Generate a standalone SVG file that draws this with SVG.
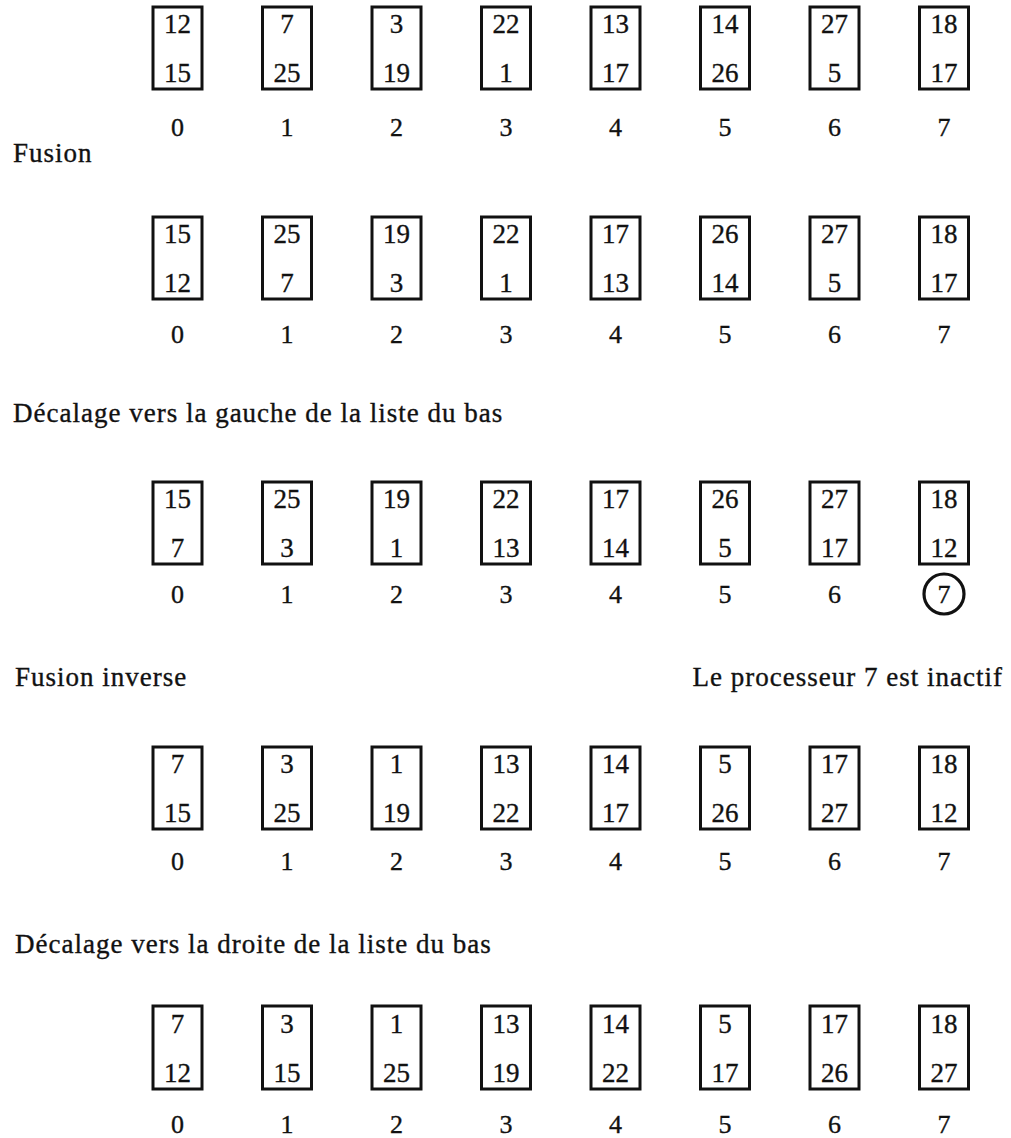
<svg xmlns="http://www.w3.org/2000/svg" width="1011" height="1138" viewBox="0 0 1011 1138">
<style>
text{font-family:"Liberation Serif","Times New Roman",serif;fill:#111;stroke:#111;stroke-width:0.35;}
.box{fill:none;stroke:#111;stroke-width:3;}
.v{font-size:27px;text-anchor:middle;}
.idx{font-size:26px;text-anchor:middle;}
.lbl{font-size:27px;letter-spacing:1px;}
</style>
<rect width="1011" height="1138" fill="#fff"/>
<g id="labels">
<text class="lbl" x="13" y="162">Fusion</text>
<text class="lbl" x="13" y="422">Décalage vers la gauche de la liste du bas</text>
<text class="lbl" x="15" y="686">Fusion inverse</text>
<text class="lbl" x="1003" y="686" text-anchor="end">Le processeur 7 est inactif</text>
<text class="lbl" x="15" y="953">Décalage vers la droite de la liste du bas</text>
</g>
<g id="row1">
<g id="r1-n0"><rect class="box" x="153" y="7" width="49" height="82"/><text class="v" x="177.5" y="33">12</text><text class="v" x="177.5" y="82">15</text><text class="idx" x="177.5" y="136">0</text></g>
<g id="r1-n1"><rect class="box" x="262.5" y="7" width="49" height="82"/><text class="v" x="287" y="33">7</text><text class="v" x="287" y="82">25</text><text class="idx" x="287" y="136">1</text></g>
<g id="r1-n2"><rect class="box" x="372" y="7" width="49" height="82"/><text class="v" x="396.5" y="33">3</text><text class="v" x="396.5" y="82">19</text><text class="idx" x="396.5" y="136">2</text></g>
<g id="r1-n3"><rect class="box" x="481.5" y="7" width="49" height="82"/><text class="v" x="506" y="33">22</text><text class="v" x="506" y="82">1</text><text class="idx" x="506" y="136">3</text></g>
<g id="r1-n4"><rect class="box" x="591" y="7" width="49" height="82"/><text class="v" x="615.5" y="33">13</text><text class="v" x="615.5" y="82">17</text><text class="idx" x="615.5" y="136">4</text></g>
<g id="r1-n5"><rect class="box" x="700.5" y="7" width="49" height="82"/><text class="v" x="725" y="33">14</text><text class="v" x="725" y="82">26</text><text class="idx" x="725" y="136">5</text></g>
<g id="r1-n6"><rect class="box" x="810" y="7" width="49" height="82"/><text class="v" x="834.5" y="33">27</text><text class="v" x="834.5" y="82">5</text><text class="idx" x="834.5" y="136">6</text></g>
<g id="r1-n7"><rect class="box" x="919.5" y="7" width="49" height="82"/><text class="v" x="944" y="33">18</text><text class="v" x="944" y="82">17</text><text class="idx" x="944" y="136">7</text></g>
</g>
<g id="row2">
<g id="r2-n0"><rect class="box" x="153" y="217" width="49" height="82"/><text class="v" x="177.5" y="243">15</text><text class="v" x="177.5" y="292">12</text><text class="idx" x="177.5" y="343">0</text></g>
<g id="r2-n1"><rect class="box" x="262.5" y="217" width="49" height="82"/><text class="v" x="287" y="243">25</text><text class="v" x="287" y="292">7</text><text class="idx" x="287" y="343">1</text></g>
<g id="r2-n2"><rect class="box" x="372" y="217" width="49" height="82"/><text class="v" x="396.5" y="243">19</text><text class="v" x="396.5" y="292">3</text><text class="idx" x="396.5" y="343">2</text></g>
<g id="r2-n3"><rect class="box" x="481.5" y="217" width="49" height="82"/><text class="v" x="506" y="243">22</text><text class="v" x="506" y="292">1</text><text class="idx" x="506" y="343">3</text></g>
<g id="r2-n4"><rect class="box" x="591" y="217" width="49" height="82"/><text class="v" x="615.5" y="243">17</text><text class="v" x="615.5" y="292">13</text><text class="idx" x="615.5" y="343">4</text></g>
<g id="r2-n5"><rect class="box" x="700.5" y="217" width="49" height="82"/><text class="v" x="725" y="243">26</text><text class="v" x="725" y="292">14</text><text class="idx" x="725" y="343">5</text></g>
<g id="r2-n6"><rect class="box" x="810" y="217" width="49" height="82"/><text class="v" x="834.5" y="243">27</text><text class="v" x="834.5" y="292">5</text><text class="idx" x="834.5" y="343">6</text></g>
<g id="r2-n7"><rect class="box" x="919.5" y="217" width="49" height="82"/><text class="v" x="944" y="243">18</text><text class="v" x="944" y="292">17</text><text class="idx" x="944" y="343">7</text></g>
</g>
<g id="row3">
<g id="r3-n0"><rect class="box" x="153" y="482" width="49" height="82"/><text class="v" x="177.5" y="508">15</text><text class="v" x="177.5" y="557">7</text><text class="idx" x="177.5" y="603">0</text></g>
<g id="r3-n1"><rect class="box" x="262.5" y="482" width="49" height="82"/><text class="v" x="287" y="508">25</text><text class="v" x="287" y="557">3</text><text class="idx" x="287" y="603">1</text></g>
<g id="r3-n2"><rect class="box" x="372" y="482" width="49" height="82"/><text class="v" x="396.5" y="508">19</text><text class="v" x="396.5" y="557">1</text><text class="idx" x="396.5" y="603">2</text></g>
<g id="r3-n3"><rect class="box" x="481.5" y="482" width="49" height="82"/><text class="v" x="506" y="508">22</text><text class="v" x="506" y="557">13</text><text class="idx" x="506" y="603">3</text></g>
<g id="r3-n4"><rect class="box" x="591" y="482" width="49" height="82"/><text class="v" x="615.5" y="508">17</text><text class="v" x="615.5" y="557">14</text><text class="idx" x="615.5" y="603">4</text></g>
<g id="r3-n5"><rect class="box" x="700.5" y="482" width="49" height="82"/><text class="v" x="725" y="508">26</text><text class="v" x="725" y="557">5</text><text class="idx" x="725" y="603">5</text></g>
<g id="r3-n6"><rect class="box" x="810" y="482" width="49" height="82"/><text class="v" x="834.5" y="508">27</text><text class="v" x="834.5" y="557">17</text><text class="idx" x="834.5" y="603">6</text></g>
<g id="r3-n7"><rect class="box" x="919.5" y="482" width="49" height="82"/><text class="v" x="944" y="508">18</text><text class="v" x="944" y="557">12</text><circle cx="944" cy="594" r="20" fill="none" stroke="#111" stroke-width="3.2"/><text class="idx" x="944" y="603">7</text></g>
</g>
<g id="row4">
<g id="r4-n0"><rect class="box" x="153" y="747" width="49" height="82"/><text class="v" x="177.5" y="773">7</text><text class="v" x="177.5" y="822">15</text><text class="idx" x="177.5" y="870">0</text></g>
<g id="r4-n1"><rect class="box" x="262.5" y="747" width="49" height="82"/><text class="v" x="287" y="773">3</text><text class="v" x="287" y="822">25</text><text class="idx" x="287" y="870">1</text></g>
<g id="r4-n2"><rect class="box" x="372" y="747" width="49" height="82"/><text class="v" x="396.5" y="773">1</text><text class="v" x="396.5" y="822">19</text><text class="idx" x="396.5" y="870">2</text></g>
<g id="r4-n3"><rect class="box" x="481.5" y="747" width="49" height="82"/><text class="v" x="506" y="773">13</text><text class="v" x="506" y="822">22</text><text class="idx" x="506" y="870">3</text></g>
<g id="r4-n4"><rect class="box" x="591" y="747" width="49" height="82"/><text class="v" x="615.5" y="773">14</text><text class="v" x="615.5" y="822">17</text><text class="idx" x="615.5" y="870">4</text></g>
<g id="r4-n5"><rect class="box" x="700.5" y="747" width="49" height="82"/><text class="v" x="725" y="773">5</text><text class="v" x="725" y="822">26</text><text class="idx" x="725" y="870">5</text></g>
<g id="r4-n6"><rect class="box" x="810" y="747" width="49" height="82"/><text class="v" x="834.5" y="773">17</text><text class="v" x="834.5" y="822">27</text><text class="idx" x="834.5" y="870">6</text></g>
<g id="r4-n7"><rect class="box" x="919.5" y="747" width="49" height="82"/><text class="v" x="944" y="773">18</text><text class="v" x="944" y="822">12</text><text class="idx" x="944" y="870">7</text></g>
</g>
<g id="row5">
<g id="r5-n0"><rect class="box" x="153" y="1006" width="49" height="83"/><text class="v" x="177.5" y="1033">7</text><text class="v" x="177.5" y="1082">12</text><text class="idx" x="177.5" y="1133">0</text></g>
<g id="r5-n1"><rect class="box" x="262.5" y="1006" width="49" height="83"/><text class="v" x="287" y="1033">3</text><text class="v" x="287" y="1082">15</text><text class="idx" x="287" y="1133">1</text></g>
<g id="r5-n2"><rect class="box" x="372" y="1006" width="49" height="83"/><text class="v" x="396.5" y="1033">1</text><text class="v" x="396.5" y="1082">25</text><text class="idx" x="396.5" y="1133">2</text></g>
<g id="r5-n3"><rect class="box" x="481.5" y="1006" width="49" height="83"/><text class="v" x="506" y="1033">13</text><text class="v" x="506" y="1082">19</text><text class="idx" x="506" y="1133">3</text></g>
<g id="r5-n4"><rect class="box" x="591" y="1006" width="49" height="83"/><text class="v" x="615.5" y="1033">14</text><text class="v" x="615.5" y="1082">22</text><text class="idx" x="615.5" y="1133">4</text></g>
<g id="r5-n5"><rect class="box" x="700.5" y="1006" width="49" height="83"/><text class="v" x="725" y="1033">5</text><text class="v" x="725" y="1082">17</text><text class="idx" x="725" y="1133">5</text></g>
<g id="r5-n6"><rect class="box" x="810" y="1006" width="49" height="83"/><text class="v" x="834.5" y="1033">17</text><text class="v" x="834.5" y="1082">26</text><text class="idx" x="834.5" y="1133">6</text></g>
<g id="r5-n7"><rect class="box" x="919.5" y="1006" width="49" height="83"/><text class="v" x="944" y="1033">18</text><text class="v" x="944" y="1082">27</text><text class="idx" x="944" y="1133">7</text></g>
</g>
</svg>
